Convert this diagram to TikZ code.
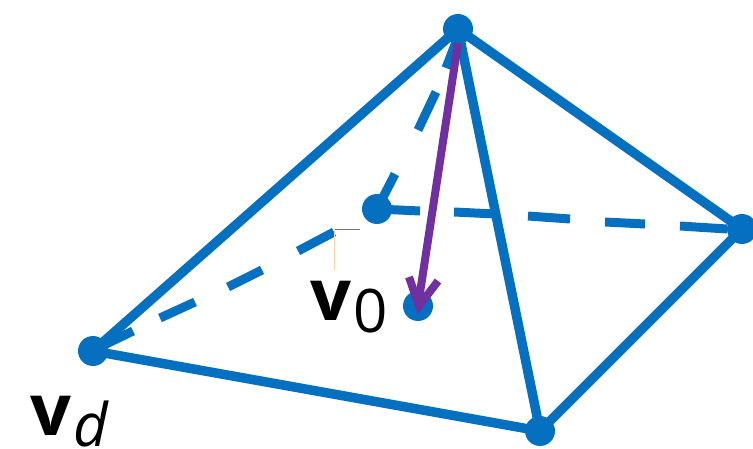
\documentclass[tikz,border=0pt]{standalone}
\usepackage{fontspec}
\setmainfont{Open Sans}
\definecolor{edgeblue}{RGB}{5,112,192}
\definecolor{arrowpurple}{RGB}{112,48,160}
\tikzset{
  vert/.style={circle,fill=edgeblue,inner sep=0pt,minimum size=30pt},
  edge/.style={draw=edgeblue,line width=9.5pt},
  dashedge/.style={draw=edgeblue,line width=9pt},
  lab/.style={inner sep=0pt,anchor=base west,text=black}
}
\begin{document}
\begin{tikzpicture}[x=1pt,y=-1pt]
\useasboundingbox (0,0) rectangle (753,449);
\node[vert] (top) at (458,29) {};
\node[vert] (right) at (742,229) {};
\node[vert] (bottom) at (540,431) {};
\node[vert] (left) at (93,351) {};
\node[vert] (back) at (377,209) {};
\node[vert] (center) at (418,306) {};
\draw[edge] (left.center) -- (top.center);
\draw[edge] (top.center) -- (right.center);
\draw[edge] (right.center) -- (bottom.center);
\draw[edge] (bottom.center) -- (left.center);
\draw[edge] (top.center) -- (bottom.center);
\coordinate (d1a) at (100,347); \coordinate (d1b) at (133,331);
\coordinate (d2a) at (160,318); \coordinate (d2b) at (195,302);
\coordinate (d3a) at (228,287); \coordinate (d3b) at (262,270);
\coordinate (d4a) at (298,251); \coordinate (d4b) at (334,232);
\draw[dashedge] (d1a) -- (d1b) (d2a) -- (d2b) (d3a) -- (d3b) (d4a) -- (d4b);
\coordinate (t1) at (395,174); \coordinate (t2) at (418,130);
\coordinate (t3) at (436,92); \coordinate (t4) at (446,68);
\coordinate (t5) at (456,42);
\draw[dashedge] (back.center) -- (t1) (t2) -- (t3) (t4) -- (t5);
\coordinate (r1) at (420,211); \coordinate (r2) at (454,212);
\coordinate (r3) at (495,214); \coordinate (r3b) at (528,216); \coordinate (r4) at (570,219);
\coordinate (r5) at (605,222); \coordinate (r6) at (645,224);
\coordinate (r7) at (680,226); \coordinate (r8) at (727,229);
\draw[dashedge] (back.center) -- (r1) (r2) -- (r3) (r3b) -- (r4) (r5) -- (r6) (r7) -- (r8);
\draw[draw=arrowpurple,line width=8pt] (top.center) ++(0,14) -- (center.center);
\draw[draw=arrowpurple,line width=8pt,line join=miter] (409,277) -- (419,306) -- (438,281);
\coordinate (s1) at (334,229); \coordinate (s2) at (360,229); \coordinate (s3) at (334,270);
\draw[black!55,line width=0.5pt] (s1) -- (s2);
\draw[orange!35,line width=0.5pt] (s1) -- (s3);
\node[lab] (v0) at (310,321) {\fontsize{72}{72}\selectfont\textbf{v}\hspace{2pt}\raisebox{-12pt}{\fontsize{60}{60}\selectfont 0}};
\node[lab] (vd) at (30,435) {\fontsize{72}{72}\selectfont\textbf{v}\hspace{2pt}\raisebox{-11pt}{\fontsize{60}{60}\selectfont\itshape d}};
\end{tikzpicture}
\end{document}
